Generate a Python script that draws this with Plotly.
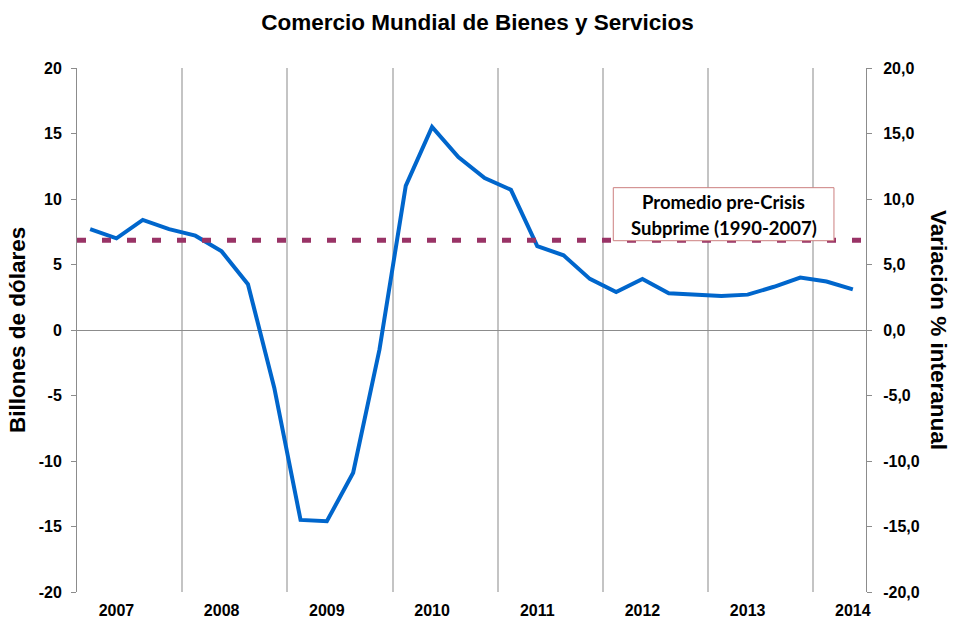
import plotly.graph_objects as go

# ---- data ----
years = ["2007", "2008", "2009", "2010", "2011", "2012", "2013", "2014"]
quarters_per_year = 4
trade_growth = [7.7, 7.0, 8.4, 7.7, 7.2, 6.0, 3.5, -4.4,
                -14.5, -14.6, -10.9, -1.5, 11.0, 15.5, 13.2, 11.6,
                10.7, 6.4, 5.7, 3.9, 2.9, 3.9, 2.8, 2.7,
                2.6, 2.7, 3.3, 4.0, 3.7, 3.1]
pre_crisis_avg = 6.85
y_ticks = [-20, -15, -10, -5, 0, 5, 10, 15, 20]

x_idx = list(range(len(trade_growth)))
# year label at 2nd quarter of each year; grid lines at year boundaries
year_label_pos = [i * quarters_per_year + 1 for i in range(len(years))]
year_bounds = [i * quarters_per_year - 0.5 for i in range(1, len(years))]
x_edges = [x_idx[0] - 0.5, x_idx[-1] + 0.5]

FONT = "Liberation Sans, Arial, sans-serif"
AXIS_COL = "#8c8c8c"

fig = go.Figure()
fig.add_trace(go.Scatter(
    x=x_idx, y=trade_growth, mode="lines",
    line=dict(color="#0066CC", width=4),
    showlegend=False, hoverinfo="y"))

# pre-crisis average, drawn on the right (percent) axis across the full width
fig.add_trace(go.Scatter(
    x=x_edges, y=[pre_crisis_avg] * len(x_edges), mode="lines", yaxis="y2",
    line=dict(color="#993366", width=5, dash="9px,16px"),
    showlegend=False, hoverinfo="y"))

fig.update_layout(
    width=955, height=619,
    margin=dict(l=77, r=89, t=68, b=27, autoexpand=False),
    paper_bgcolor="white", plot_bgcolor="white",
    font=dict(family=FONT, color="black"),
    title=dict(text="Comercio Mundial de Bienes y Servicios",
               font=dict(family=FONT, size=22.5, weight="bold", color="black"),
               x=0.5, xanchor="center", xref="container",
               y=1 - 22 / 619, yanchor="middle", yref="container"),
    xaxis=dict(range=x_edges, automargin=False,
               tickmode="array", tickvals=year_label_pos, ticktext=years,
               tickfont=dict(family=FONT, size=16, weight="bold", color="black"),
               showgrid=False, zeroline=False, showline=False, ticks="",
               ticklabelstandoff=7,
               minor=dict(tickmode="array", tickvals=year_bounds, showgrid=True,
                          gridcolor="#c4c4c4", gridwidth=1.5, ticks="")),
    yaxis=dict(range=[-20, 20], automargin=False, tickmode="array", tickvals=y_ticks,
               ticktext=[str(v) for v in y_ticks],
               tickfont=dict(family=FONT, size=16, weight="bold", color="black"),
               showgrid=False, zeroline=True, zerolinecolor=AXIS_COL, zerolinewidth=1,
               showline=True, linecolor=AXIS_COL, linewidth=1,
               ticks="outside", ticklen=5, tickcolor=AXIS_COL, tickwidth=1,
               ticklabelstandoff=6),
    yaxis2=dict(range=[-20, 20], automargin=False, overlaying="y", side="right",
                tickmode="array", tickvals=y_ticks,
                ticktext=[f"{v:.1f}".replace(".", ",") for v in y_ticks],
                tickfont=dict(family=FONT, size=16, weight="bold", color="black"),
                showgrid=False, zeroline=False,
                showline=True, linecolor=AXIS_COL, linewidth=1,
                ticks="outside", ticklen=5, tickcolor=AXIS_COL, tickwidth=1,
                ticklabelstandoff=8),
)

fig.add_annotation(text="Billones de dólares", xref="paper", yref="paper",
                   x=-0.076, y=0.5, xanchor="center", yanchor="middle",
                   textangle=-90, showarrow=False,
                   font=dict(family=FONT, size=22.5, weight="bold", color="black"))
fig.add_annotation(text="Variación % interanual", xref="paper", yref="paper",
                   x=1.0925, y=0.5, xanchor="center", yanchor="middle",
                   textangle=90, showarrow=False,
                   font=dict(family=FONT, size=22.5, weight="bold", color="black"))

# label box
fig.add_shape(type="rect", xref="paper", yref="paper",
              x0=0.6797, x1=0.9594, y0=0.6704, y1=0.7716,
              fillcolor="white", line=dict(color="#CC7F7F", width=1), layer="above")
box_font = dict(family="Lato, Open Sans, sans-serif", size=18.5, weight="bold", color="black")
fig.add_annotation(text="Promedio pre-Crisis", xref="paper", yref="paper",
                   x=0.8196, y=0.7448, xanchor="center", yanchor="middle",
                   showarrow=False, font=box_font)
fig.add_annotation(text="Subprime (1990-2007)", xref="paper", yref="paper",
                   x=0.8196, y=0.6941, xanchor="center", yanchor="middle",
                   showarrow=False, font=box_font)

fig.write_html("out.html", config={"displayModeBar": False},
               post_script="document.body.style.margin='0';")
